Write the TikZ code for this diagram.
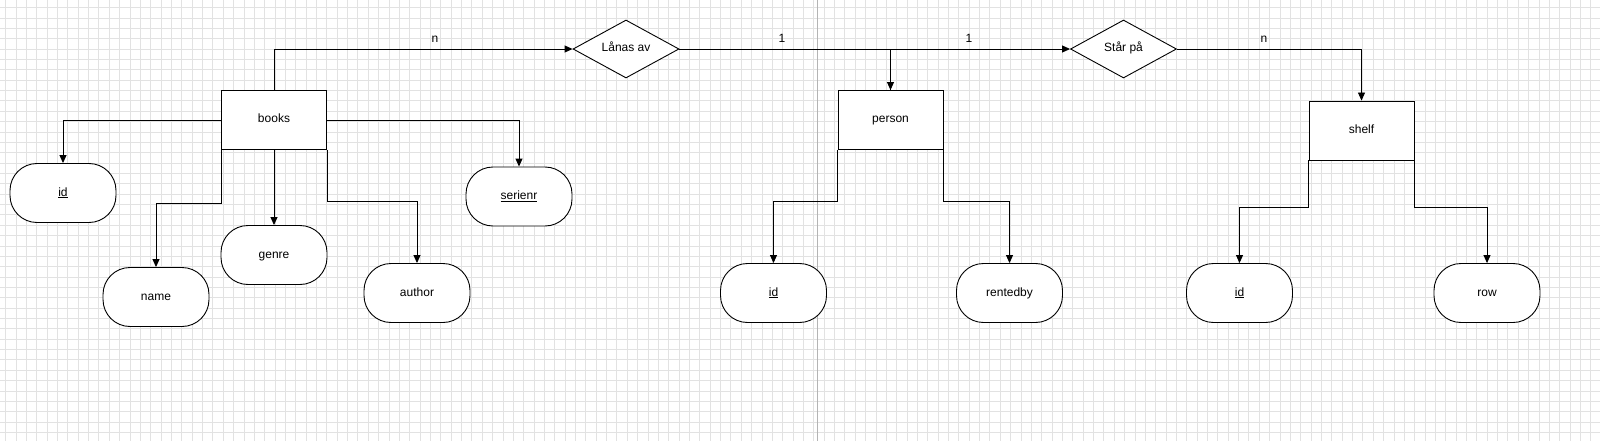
\documentclass[tikz,border=0pt]{standalone}
\usepackage{fontspec}
\setmainfont{Liberation Sans}
\usetikzlibrary{shapes.geometric,arrows.meta}
\definecolor{gridc}{HTML}{E2E2E2}
\definecolor{pagec}{HTML}{B4B4B4}
\begin{document}
\begin{tikzpicture}[x=1pt,y=-1pt,
  every node/.style={font=\fontsize{12}{14}\selectfont,text height=8.6pt,text depth=2.6pt},
  gridline/.style={draw=gridc,line width=0.9pt},
  pageline/.style={draw=pagec,line width=1pt},
  entity/.style={draw,fill=white,line width=0.9pt,rectangle,minimum width=105pt,minimum height=59pt,inner sep=0pt},
  attr/.style={draw,fill=white,line width=0.9pt,rectangle,rounded corners=27pt,minimum width=106pt,minimum height=59pt,inner sep=0pt},
  rel/.style={draw,fill=white,line width=0.9pt,diamond,aspect=2,minimum width=106pt,minimum height=58pt,inner sep=0pt},
  lbl/.style={inner sep=0pt},
  conn/.style={line width=0.9pt,-{Triangle[length=8pt,width=7pt]}}]
\useasboundingbox (0,0) rectangle (1600,441);
\fill[white] (0,0) rectangle (1600,441);
\foreach \i in {0,...,154} \draw[gridline] ({5.7+\i*10.36},0) -- ({5.7+\i*10.36},441);
\foreach \j in {0,...,42} \draw[gridline] (0,{7.7+\j*10.36}) -- (1600,{7.7+\j*10.36});
\draw[pageline] (817.3,0) -- (817.3,441);

% entities
\node[entity] (books) at (274,120) {books};
\node[entity] (person) at (890.5,120) {person};
\node[entity] (shelf) at (1361.5,130.5) {shelf};

% relationships
\node[rel] (lanas) at (626,49) {Lånas av};
\node[rel] (star) at (1123.5,49) {Står på};

% attributes
\node[attr] (id1) at (63,193) {\underline{id}};
\node[attr] (name) at (156,297) {name};
\node[attr] (genre) at (274,255) {genre};
\node[attr] (author) at (417,293) {author};
\node[attr] (serienr) at (519,196.5) {\underline{serienr}};
\node[attr] (id2) at (773.5,293) {\underline{id}};
\node[attr] (rentedby) at (1009.5,293) {rentedby};
\node[attr] (id3) at (1239.5,293) {\underline{id}};
\node[attr] (row) at (1487,293) {row};

% cardinality labels
\node[lbl] (c1) at (435,40) {n};
\node[lbl] (c2) at (782,40) {1};
\node[lbl] (c3) at (969,40) {1};
\node[lbl] (c4) at (1264,40) {n};

% relationship connectors
\draw[conn] (books.north) |- (lanas.west);
\draw[conn] (lanas.east) -| (person.north);
\draw[conn] (person.north) |- (star.west);
\draw[conn] (star.east) -| (shelf.north);

% books attributes
\draw[conn] (books.west) -| (id1.north);
\draw[conn] (books.south west) -- (books.south west |- 0,203) -| (name.north);
\draw[conn] (books.south) -- (genre.north);
\draw[conn] (books.south east) -- (books.south east |- 0,201) -| (author.north);
\draw[conn] (books.east) -| (serienr.north);

% person attributes
\draw[conn] (person.south west) -- (person.south west |- 0,201) -| (id2.north);
\draw[conn] (person.south east) -- (person.south east |- 0,201) -| (rentedby.north);

% shelf attributes
\draw[conn] (shelf.south west) -- (shelf.south west |- 0,207) -| (id3.north);
\draw[conn] (shelf.south east) -- (shelf.south east |- 0,207) -| (row.north);
\end{tikzpicture}
\end{document}
